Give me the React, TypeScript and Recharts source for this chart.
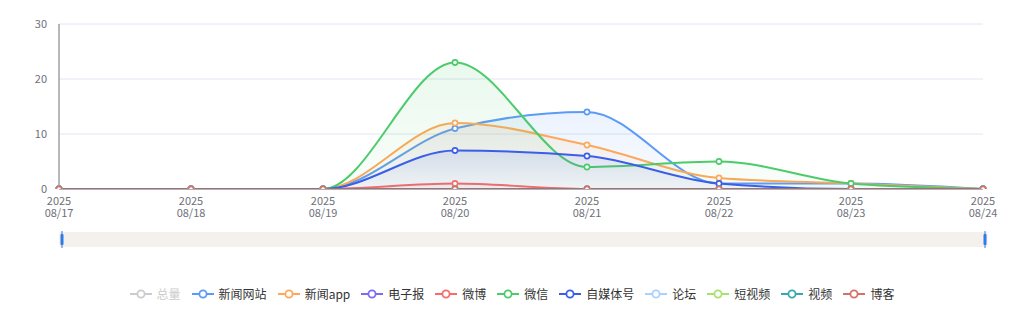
import React from 'react'
import {
  Area,
  Brush,
  CartesianGrid,
  ComposedChart,
  XAxis,
  YAxis
} from 'recharts'

const dates = ['2025\n08/17', '2025\n08/18', '2025\n08/19', '2025\n08/20', '2025\n08/21', '2025\n08/22', '2025\n08/23', '2025\n08/24']

const total = [0, 0, 0, 54, 32, 9, 3, 0]
const newsSite = [0, 0, 0, 11, 14, 1, 1, 0]
const newsApp = [0, 0, 0, 12, 8, 2, 1, 0]
const epaper = [0, 0, 0, 0, 0, 0, 0, 0]
const weibo = [0, 0, 0, 1, 0, 0, 0, 0]
const wechat = [0, 0, 0, 23, 4, 5, 1, 0]
const selfMedia = [0, 0, 0, 7, 6, 1, 0, 0]
const forum = [0, 0, 0, 0, 0, 0, 0, 0]
const shortVideo = [0, 0, 0, 0, 0, 0, 0, 0]
const video = [0, 0, 0, 0, 0, 0, 0, 0]
const blog = [0, 0, 0, 0, 0, 0, 0, 0]

const yTicks = [0, 10, 20, 30]

const series = [
  { key: 'newsSite', name: '新闻网站', color: '#5b9bf7', values: newsSite },
  { key: 'newsApp', name: '新闻app', color: '#fda85a', values: newsApp },
  { key: 'epaper', name: '电子报', color: '#7b6cf6', values: epaper },
  { key: 'weibo', name: '微博', color: '#f76b6b', values: weibo },
  { key: 'wechat', name: '微信', color: '#4ccb6b', values: wechat },
  { key: 'selfMedia', name: '自媒体号', color: '#3a5ee8', values: selfMedia },
  { key: 'forum', name: '论坛', color: '#a8d2ff', values: forum },
  { key: 'shortVideo', name: '短视频', color: '#a6e26c', values: shortVideo },
  { key: 'video', name: '视频', color: '#3aa7ae', values: video },
  { key: 'blog', name: '博客', color: '#d4716b', values: blog }
]

const data = dates.map((d, i) => {
  const row: Record<string, any> = { date: d, total: total[i] }
  series.forEach((s) => {
    row[s.key] = s.values[i]
  })
  return row
})

const FONT = '"Noto Sans CJK SC", "Noto Sans", sans-serif'

const DateTick = ({ x, y, payload }: any) => {
  const [yr, md] = String(payload.value).split('\n')
  return (
    <g>
      <text x={x} y={y + 8} textAnchor='middle' fill='#6e7079' fontSize={11} fontFamily={FONT}>
        {yr}
      </text>
      <text x={x} y={y + 20} textAnchor='middle' fill='#6e7079' fontSize={11} fontFamily={FONT}>
        {md}
      </text>
    </g>
  )
}

const HollowDot = (color: string) => (props: any) => {
  const { cx, cy, index } = props
  if (cx == null || cy == null) return <g key={index} />
  return (
    <circle key={index} cx={cx} cy={cy} r={2.6} fill='#fff' stroke={color} strokeWidth={1.6} />
  )
}

const Traveller = (props: any) => {
  const { x, y, height } = props
  return (
    <g>
      <line x1={x + 2.5} x2={x + 2.5} y1={y - 1} y2={y + height + 1} stroke='#2f7be8' strokeWidth={1} />
      <rect x={x + 1} y={y + 2} width={3} height={height - 4} rx={1} fill='#2f7be8' />
    </g>
  )
}

const LegendIcon = ({ color }: { color: string }) => (
  <svg width={22} height={12} style={{ display: 'block' }}>
    <line x1={0} x2={22} y1={6} y2={6} stroke={color} strokeWidth={2} />
    <circle cx={11} cy={6} r={3.6} fill='#fff' stroke={color} strokeWidth={1.8} />
  </svg>
)

const legendItems = [{ name: '总量', color: '#cccccc', off: true }].concat(
  series.map((s) => ({ name: s.name, color: s.color, off: false }))
)

export default function App() {
  return (
    <div style={{ position: 'absolute', left: 0, top: 0, width: 1024, height: 318, background: '#fff', fontFamily: FONT }}>
      <ComposedChart
        width={1024}
        height={318}
        data={data}
        margin={{ top: 24, right: 41, left: 0, bottom: 84 }}
      >
        <defs>
          {series.map((s) => (
            <linearGradient key={s.key} id={'g-' + s.key} x1='0' y1='0' x2='0' y2='1'>
              <stop offset='0%' stopColor={s.color} stopOpacity={0.12} />
              <stop offset='100%' stopColor={s.color} stopOpacity={0.03} />
            </linearGradient>
          ))}
        </defs>
        <CartesianGrid vertical={false} stroke='#e0e6f1' />
        <XAxis
          dataKey='date'
          interval={0}
          height={30}
          tickLine={false}
          axisLine={{ stroke: '#6e7079' }}
          tick={<DateTick />}
        />
        <YAxis
          width={59}
          domain={[0, 30]}
          allowDataOverflow={true}
          ticks={yTicks}
          tickLine={false}
          axisLine={{ stroke: '#6e7079' }}
          tick={{ fill: '#6e7079', fontSize: 11, fontFamily: FONT }}
          tickMargin={6}
        />
        {series.map((s) => (
          <Area
            key={s.key}
            type='monotone'
            dataKey={s.key}
            name={s.name}
            stroke={s.color}
            strokeWidth={2}
            fill={'url(#g-' + s.key + ')'}
            fillOpacity={1}
            dot={HollowDot(s.color)}
            activeDot={false}
            isAnimationActive={false}
          />
        ))}
        <Brush
          dataKey='date'
          x={59.5}
          y={232}
          width={928}
          height={15}
          fill='#f4f0eb'
          stroke='transparent'
          travellerWidth={5}
          traveller={Traveller}
        >
          <ComposedChart data={data}>
            <Area
              type='monotone'
              dataKey='total'
              stroke='#e4ddd4'
              strokeWidth={1}
              fill='#f4f0eb'
              fillOpacity={0}
              dot={false}
              isAnimationActive={false}
            />
          </ComposedChart>
        </Brush>
      </ComposedChart>
      <div
        style={{
          position: 'absolute',
          top: 287,
          left: 0,
          width: 1024,
          display: 'flex',
          justifyContent: 'center',
          alignItems: 'center',
          fontSize: 12,
          lineHeight: '14px'
        }}
      >
        {legendItems.map((it) => (
          <div key={it.name} style={{ display: 'flex', alignItems: 'center', margin: '0 5.5px' }}>
            <LegendIcon color={it.color} />
            <span style={{ marginLeft: 5, color: it.off ? '#cccccc' : '#333' }}>{it.name}</span>
          </div>
        ))}
      </div>
    </div>
  )
}
